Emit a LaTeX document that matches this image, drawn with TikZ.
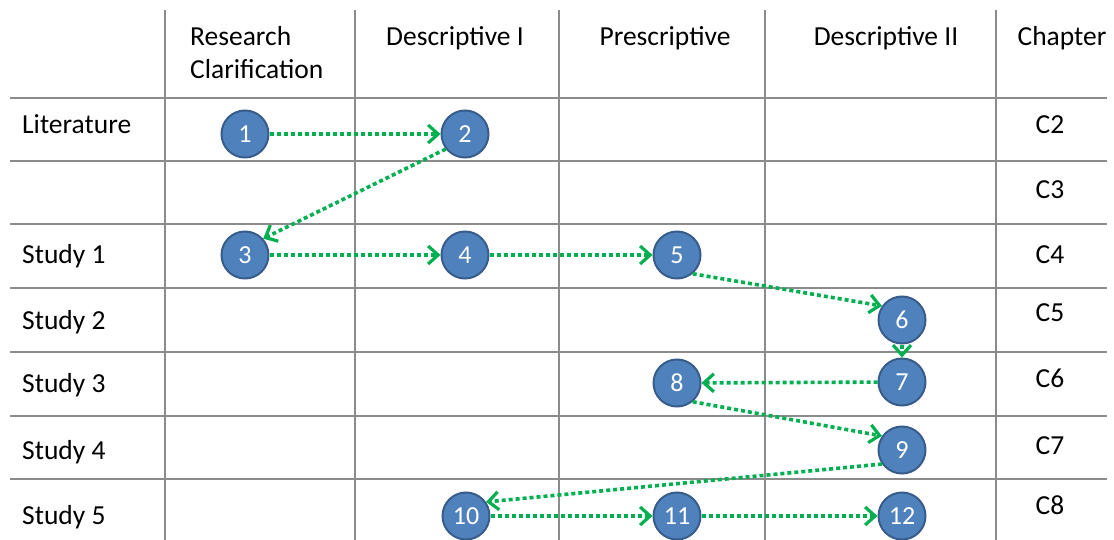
\documentclass[tikz,border=0pt]{standalone}
\usepackage{fontspec}
\setmainfont{Carlito}
\usetikzlibrary{arrows.meta}
\definecolor{gridgray}{HTML}{8C8C8C}
\definecolor{stepblue}{HTML}{4F81BD}
\definecolor{stepedge}{HTML}{385D8A}
\definecolor{flowgreen}{HTML}{00B050}
\begin{document}
\begin{tikzpicture}[x=1pt,y=-1pt,
  grid/.style={draw=gridgray, line width=2pt},
  lbl/.style={font=\fontsize{27.5}{33}\selectfont, inner sep=0pt, anchor=base},
  rowlbl/.style={lbl, anchor=base west},
  stepnode/.style={circle, fill=stepblue, draw=stepedge, line width=2pt,
    minimum size=47pt, inner sep=0pt, text=white, font=\fontsize{26}{26}\selectfont},
  flow/.style={draw=flowgreen, line width=3.6pt, dash pattern=on 4pt off 3pt,
    -{Straight Barb[length=10pt,width=18pt,line width=3.2pt]}}
]
\useasboundingbox[fill=white] (0,0) rectangle (1114,540);

% table rules
\foreach \y in {98,161,224,288,352,416,479}
  \draw[grid] (10,\y) -- (1107,\y);
\foreach \x in {165,355,559,765,996}
  \draw[grid] (\x,10) -- (\x,540);

% column headers
\node[lbl, anchor=base west, align=left] (hrc) at (190,79) {Research\\Clarification};
\node[lbl] (hd1) at (455,46) {Descriptive I};
\node[lbl] (hpr) at (665,46) {Prescriptive};
\node[lbl] (hd2) at (886,46) {Descriptive II};
\node[lbl] (hch) at (1062,46) {Chapter};

% row labels
\node[rowlbl] (rlit) at (22,134) {Literature};
\node[rowlbl] (rs1) at (22,264) {Study 1};
\node[rowlbl] (rs2) at (22,329) {Study 2};
\node[rowlbl] (rs3) at (22,392) {Study 3};
\node[rowlbl] (rs4) at (22,459) {Study 4};
\node[rowlbl] (rs5) at (22,524) {Study 5};

% chapters
\node[lbl] (c2) at (1050,134) {C2};
\node[lbl] (c3) at (1050,199) {C3};
\node[lbl] (c4) at (1050,264) {C4};
\node[lbl] (c5) at (1050,321) {C5};
\node[lbl] (c6) at (1050,387) {C6};
\node[lbl] (c7) at (1050,454) {C7};
\node[lbl] (c8) at (1050,514) {C8};

% steps
\node[stepnode] (n1) at (245,134) {1};
\node[stepnode] (n2) at (465,134) {2};
\node[stepnode] (n3) at (245,255) {3};
\node[stepnode] (n4) at (465,255) {4};
\node[stepnode] (n5) at (677,255) {5};
\node[stepnode] (n6) at (902,320) {6};
\node[stepnode] (n7) at (902,382) {7};
\node[stepnode] (n8) at (677,383) {8};
\node[stepnode] (n9) at (902,450) {9};
\node[stepnode] (n10) at (466,516) {10};
\node[stepnode] (n11) at (677,516) {11};
\node[stepnode] (n12) at (902,516) {12};

% flow between steps
\draw[flow] (n1) -- (n2);
\draw[flow] (n2.218) -- (n3.42);
\draw[flow] (n3) -- (n4);
\draw[flow] (n4) -- (n5);
\draw[flow] (n5.-50) -- (n6.145);
\draw[flow] (n6) -- (n7);
\draw[flow] (n7) -- (n8);
\draw[flow] (n8.-50) -- (n9.145);
\draw[flow] (n9.215) -- (n10.35);
\draw[flow] (n10) -- (n11);
\draw[flow] (n11) -- (n12);
\end{tikzpicture}
\end{document}
